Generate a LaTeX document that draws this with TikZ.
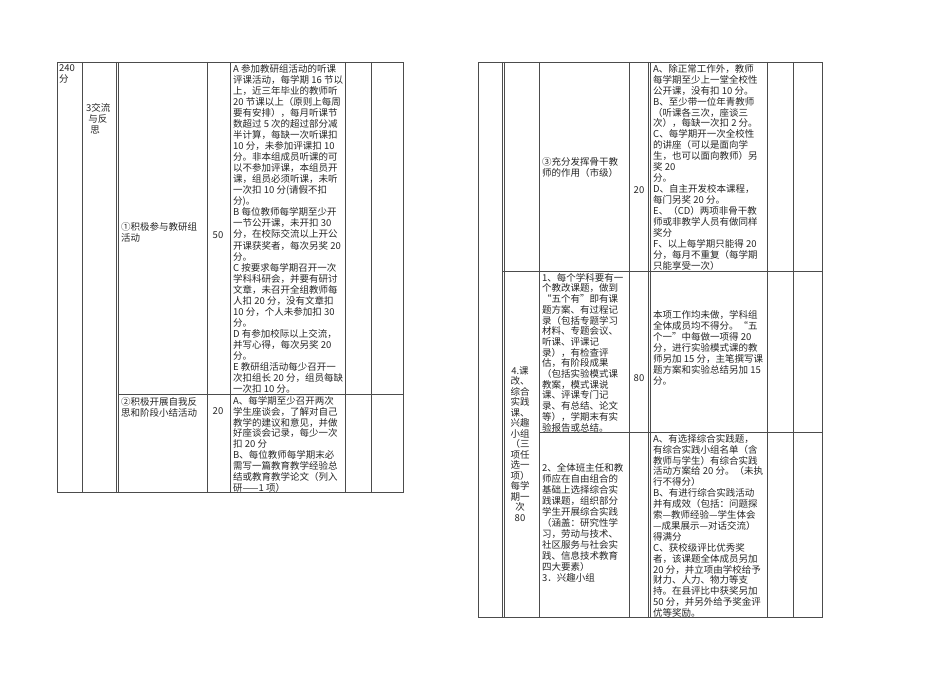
\documentclass[tikz,border=0pt]{standalone}
\usepackage{fontspec}
\setmainfont{Noto Sans CJK SC}
\begin{document}
\begin{tikzpicture}[x=1pt,y=-1pt,
  grid/.style={draw=black!70,line width=0.6pt},
  tx/.style={anchor=north west,inner sep=0pt,align=left,text=black!85,font=\fontsize{9.5}{11}\selectfont},
  tc/.style={anchor=center,inner sep=0pt,align=center,text=black!85,font=\fontsize{9.5}{10.5}\selectfont}]
\useasboundingbox (0,0) rectangle (950,700);
% left table
\draw[grid] (57,62) rectangle (403,492);
\foreach \x in {82,118,207,230,345,371} \draw[grid] (\x,62) -- (\x,492);
\draw[grid] (118,394) -- (403,394);
\draw[grid] (116,62) -- (116,492);
% right table
\draw[grid] (478,62) rectangle (822,617);
\foreach \x in {502,539,629,650,767,793} \draw[grid] (\x,62) -- (\x,617);
\draw[grid] (504,62) -- (504,617);
\draw[grid] (648,62) -- (648,617);
\draw[grid] (502,271) -- (822,271);
\draw[grid] (539,432) -- (822,432);
% left texts
\node[tx] (a1) at (59,64) {240\\分};
\node[tx] (a2) at (86,103) {3交流\\ \ 与反\\ \ \ 思};
\node[tx] (a3) at (121,222) {①积极参与教研组\\活动};
\node[tc] (a4) at (218,235) {50};
\node[tx,font=\fontsize{9.5}{11.05}\selectfont] (a5) at (233,64) {A 参加教研组活动的听课\\评课活动，每学期 16 节以\\上，近三年毕业的教师听\\20 节课以上（原则上每周\\要有安排），每月听课节\\数超过 5 次的超过部分减\\半计算，每缺一次听课扣\\10 分，未参加评课扣 10\\分。非本组成员听课的可\\以不参加评课，本组员开\\课，组员必须听课，未听\\一次扣 10 分(请假不扣\\分)。\\B 每位教师每学期至少开\\一节公开课，未开扣 30\\分，在校际交流以上开公\\开课获奖者，每次另奖 20\\分。\\C 按要求每学期召开一次\\学科科研会，并要有研讨\\文章，未召开全组教师每\\人扣 20 分，没有文章扣\\10 分，个人未参加扣 30\\分。\\D 有参加校际以上交流，\\并写心得，每次另奖 20\\分。\\E 教研组活动每少召开一\\次扣组长 20 分，组员每缺\\一次扣 10 分。};
\node[tx] (a6) at (121,397) {②积极开展自我反\\思和阶段小结活动};
\node[tc] (a7) at (218,411) {20};
\node[tx,font=\fontsize{9.5}{10.9}\selectfont] (a8) at (233,396) {A、每学期至少召开两次\\学生座谈会，了解对自己\\教学的建议和意见，并做\\好座谈会记录，每少一次\\扣 20 分\\B、每位教师每学期末必\\需写一篇教育教学经验总\\结或教育教学论文（列入\\研——1 项）};
% right texts
\node[tx] (b1) at (542,157) {③充分发挥骨干教\\师的作用（市级）};
\node[tc] (b2) at (639,190) {20};
\node[tx,font=\fontsize{9.5}{10.95}\selectfont] (b3) at (653,64) {A、除正常工作外，教师\\每学期至少上一堂全校性\\公开课，没有扣 10 分。\\B、至少带一位年青教师\\（听课各三次，座谈三\\次），每缺一次扣 2 分。\\C、每学期开一次全校性\\的讲座（可以是面向学\\生，也可以面向教师）另\\奖 20\\分。\\D、自主开发校本课程，\\每门另奖 20 分。\\E、（CD）两项非骨干教\\师或非教学人员有做同样\\奖分\\F、以上每学期只能得 20\\分，每月不重复（每学期\\只能享受一次）};
\node[tx,font=\fontsize{9.5}{10.7}\selectfont] (b4) at (542,273) {1、每个学科要有一\\个教改课题，做到\\“五个有”即有课\\题方案、有过程记\\录（包括专题学习\\材料、专题会议、\\听课、评课记\\录），有检查评\\估，有阶段成果\\（包括实验模式课\\教案，模式课说\\课、评课专门记\\录、有总结、论文\\等），学期末有实\\验报告或总结。};
\node[tc] (b5) at (639,378) {80};
\node[tx] (b6) at (653,310) {本项工作均未做，学科组\\全体成员均不得分。“五\\个一”中每做一项得 20\\分，进行实验模式课的教\\师另加 15 分，主笔撰写课\\题方案和实验总结另加 15\\分。};
\node[tc,anchor=north] (b7) at (520,366) {4.课\\改、\\综合\\实践\\课、\\兴趣\\小组\\（三\\项任\\选一\\项）\\每学\\期一\\次\\80};
\node[tx] (b8) at (542,463) {2、全体班主任和教\\师应在自由组合的\\基础上选择综合实\\践课题，组织部分\\学生开展综合实践\\（涵盖：研究性学\\习，劳动与技术、\\社区服务与社会实\\践、信息技术教育\\四大要素）\\3．兴趣小组};
\node[tx,font=\fontsize{9.5}{10.9}\selectfont] (b9) at (653,434) {A、有选择综合实践题，\\有综合实践小组名单（含\\教师与学生）有综合实践\\活动方案给 20 分。（未执\\行不得分）\\B、有进行综合实践活动\\并有成效（包括：问题探\\索—教师经验—学生体会\\—成果展示—对话交流）\\得满分\\C、获校级评比优秀奖\\者，该课题全体成员另加\\20 分，并立项由学校给予\\财力、人力、物力等支\\持。在县评比中获奖另加\\50 分，并另外给予奖金评\\优等奖励。};
\end{tikzpicture}
\end{document}
